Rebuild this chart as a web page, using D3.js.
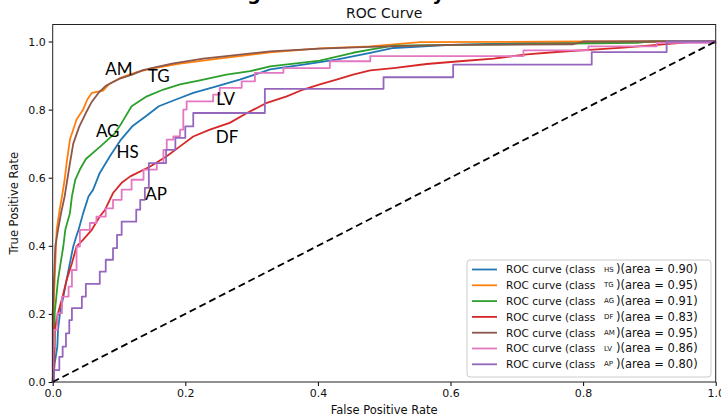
<!DOCTYPE html>
<html>
<head>
<meta charset="utf-8">
<script src="https://cdn.jsdelivr.net/npm/d3@7"></script>
<style>
    body { margin: 0; background: #fff; }
    svg { display: block; }
    .tick text { font-family: "DejaVu Sans", sans-serif; font-size: 11px; fill: #111; }
    .tick line { stroke: #000; }
    .domain { display: none; }
    .axisLabel { font-family: "DejaVu Sans", sans-serif; font-size: 11.5px; fill: #111; }
    .legendText { font-family: "DejaVu Sans", sans-serif; font-size: 10.5px; fill: #111; }
    .note { font-family: Lato, "Open Sans", sans-serif; font-size: 17px; fill: #000; }
</style>
</head>
<body>
<svg id="chart" width="721" height="416"></svg>
<script>
/*
 Chart data
 */

var CLASS_NAMES = ['HS', 'TG', 'AG', 'DF', 'AM', 'LV', 'AP'];
var AUC_VALUES = [0.90, 0.95, 0.91, 0.83, 0.95, 0.86, 0.80];
var AXIS_TICKS = [0.0, 0.2, 0.4, 0.6, 0.8, 1.0];

// [fpr, tpr]
var rocHS = [[0, 0], [0.002, 0.03], [0.003, 0.055], [0.007, 0.104], [0.008, 0.153], [0.011, 0.202],
    [0.016, 0.25], [0.021, 0.3], [0.026, 0.35], [0.031, 0.398], [0.036, 0.43], [0.039, 0.447],
    [0.046, 0.496], [0.054, 0.545], [0.061, 0.565], [0.071, 0.614], [0.087, 0.665], [0.103, 0.712],
    [0.12, 0.751], [0.14, 0.78], [0.16, 0.81], [0.185, 0.829], [0.212, 0.849], [0.247, 0.868],
    [0.282, 0.888], [0.328, 0.918], [0.378, 0.932], [0.428, 0.947], [0.479, 0.967], [0.514, 0.981],
    [0.6, 0.99], [0.7, 0.995], [0.8, 0.998], [0.9, 1.0], [1, 1]];

var rocTG = [[0, 0], [0.001, 0.1], [0.002, 0.25], [0.003, 0.3], [0.005, 0.4], [0.006, 0.447],
    [0.01, 0.5], [0.014, 0.545], [0.018, 0.594], [0.021, 0.643], [0.026, 0.712], [0.036, 0.771],
    [0.046, 0.8], [0.052, 0.829], [0.059, 0.849], [0.076, 0.856], [0.086, 0.876], [0.104, 0.895],
    [0.127, 0.91], [0.147, 0.92], [0.192, 0.935], [0.25, 0.95], [0.328, 0.968], [0.403, 0.98],
    [0.479, 0.986], [0.554, 0.998], [0.8, 1.0], [1, 1]];

var rocAG = [[0, 0], [0.001, 0.05], [0.003, 0.104], [0.003, 0.202], [0.008, 0.3], [0.012, 0.35],
    [0.016, 0.398], [0.019, 0.447], [0.026, 0.496], [0.029, 0.545], [0.034, 0.594], [0.041, 0.624],
    [0.05, 0.655], [0.072, 0.692], [0.094, 0.731], [0.104, 0.761], [0.119, 0.81], [0.142, 0.839],
    [0.167, 0.859], [0.192, 0.874], [0.222, 0.886], [0.262, 0.903], [0.298, 0.913], [0.328, 0.927],
    [0.403, 0.944], [0.453, 0.967], [0.479, 0.976], [0.514, 0.988], [0.6, 0.99], [0.881, 0.996],
    [0.9, 1.0], [1, 1]];

var rocDF = [[0, 0], [0.002, 0.05], [0.003, 0.153], [0.008, 0.202], [0.015, 0.251], [0.021, 0.3],
    [0.029, 0.349], [0.036, 0.398], [0.046, 0.418], [0.059, 0.447], [0.071, 0.486], [0.079, 0.506],
    [0.091, 0.555], [0.104, 0.585], [0.117, 0.604], [0.147, 0.633], [0.172, 0.663], [0.192, 0.692],
    [0.212, 0.721], [0.237, 0.741], [0.267, 0.761], [0.293, 0.79], [0.323, 0.82], [0.353, 0.839],
    [0.378, 0.859], [0.403, 0.874], [0.428, 0.888], [0.453, 0.903], [0.479, 0.915], [0.514, 0.922],
    [0.564, 0.934], [0.614, 0.942], [0.665, 0.95], [0.715, 0.962], [0.765, 0.97], [0.815, 0.976],
    [0.866, 0.983], [0.916, 0.991], [0.966, 0.999], [1, 1]];

var rocAM = [[0, 0], [0, 0.2], [0.002, 0.3], [0.004, 0.4], [0.008, 0.447], [0.013, 0.5],
    [0.018, 0.545], [0.022, 0.594], [0.026, 0.643], [0.031, 0.7], [0.04, 0.75], [0.05, 0.79],
    [0.058, 0.82], [0.069, 0.849], [0.08, 0.87], [0.1, 0.89], [0.12, 0.903], [0.136, 0.916],
    [0.156, 0.925], [0.18, 0.935], [0.227, 0.95], [0.328, 0.971], [0.403, 0.979], [0.479, 0.984],
    [0.6, 0.99], [0.785, 0.992], [0.8, 1.0], [1, 1]];

var rocLV = [[0, 0], [0.001, 0.104], [0.002, 0.153], [0.007, 0.202], [0.014, 0.251], [0.024, 0.28],
    [0.029, 0.329], [0.036, 0.398], [0.041, 0.447], [0.056, 0.467], [0.066, 0.486], [0.08, 0.51],
    [0.091, 0.535], [0.104, 0.565], [0.119, 0.594], [0.137, 0.624], [0.157, 0.643], [0.167, 0.682],
    [0.172, 0.712], [0.182, 0.721], [0.192, 0.741], [0.197, 0.8], [0.202, 0.824], [0.242, 0.844],
    [0.252, 0.864], [0.285, 0.883], [0.305, 0.908], [0.348, 0.922], [0.418, 0.942], [0.479, 0.957],
    [0.71, 0.974], [0.808, 0.986], [0.911, 0.996], [1, 1]];

var rocAP = [[0, 0], [0.002, 0.035], [0.01, 0.074], [0.015, 0.104], [0.02, 0.143], [0.025, 0.182],
    [0.029, 0.217], [0.044, 0.251], [0.05, 0.288], [0.071, 0.324], [0.08, 0.359], [0.091, 0.393],
    [0.097, 0.432], [0.104, 0.471], [0.126, 0.506], [0.132, 0.535], [0.139, 0.57], [0.145, 0.643],
    [0.171, 0.682], [0.185, 0.717], [0.2, 0.751], [0.212, 0.79], [0.32, 0.861], [0.499, 0.895],
    [0.604, 0.932], [0.813, 0.969], [0.926, 1.0], [1, 1]];

// hand-placed class labels, [fpr, tpr] of the label centre
var NOTE_NAMES = ['AM', 'TG', 'AG', 'HS', 'LV', 'DF', 'AP'];
var NOTE_POS = [[0.100, 0.918], [0.160, 0.900], [0.083, 0.738], [0.113, 0.676],
    [0.261, 0.832], [0.263, 0.718], [0.156, 0.551]];

/*
 Layout
 */

var COLORS = ['#1f77b4', '#ff7f0e', '#2ca02c', '#d62728', '#8c564b', '#e377c2', '#9467bd'];
var STEPPED = [false, false, false, false, false, true, true];
var PLOT_LEFT = 52.7, PLOT_RIGHT = 715.7, PLOT_TOP = 24.5, PLOT_BOTTOM = 382;

var svg = d3.select('#chart');

var x = d3.scaleLinear().domain([0, 1]).range([PLOT_LEFT, PLOT_RIGHT]);
var y = d3.scaleLinear().domain([0, 1.05]).range([PLOT_BOTTOM, PLOT_TOP]);

var series = CLASS_NAMES.map(function (name, i) {
    return {
        id: name,
        auc: AUC_VALUES[i],
        color: COLORS[i],
        stepped: STEPPED[i],
        points: [rocHS, rocTG, rocAG, rocDF, rocAM, rocLV, rocAP][i]
    };
});

/*
 Titles
 */

svg.append('text')
    .attr('x', 174)
    .attr('y', 0)
    .style('font-family', '"DejaVu Sans", sans-serif')
    .style('font-weight', 'bold')
    .style('font-size', '19px')
    .attr('fill', '#000')
    .text('Training vs Test Accuracy');

svg.append('text')
    .attr('x', (PLOT_LEFT + PLOT_RIGHT) / 2)
    .attr('y', 18)
    .attr('text-anchor', 'middle')
    .style('font-family', '"DejaVu Sans", sans-serif')
    .style('font-size', '14px')
    .attr('fill', '#111')
    .text('ROC Curve');

/*
 Axes
 */

var xAxis = d3.axisBottom(x)
    .tickValues(AXIS_TICKS)
    .tickFormat(d3.format('.1f'))
    .tickSize(4)
    .tickPadding(3);

var yAxis = d3.axisLeft(y)
    .tickValues(AXIS_TICKS)
    .tickFormat(d3.format('.1f'))
    .tickSize(4)
    .tickPadding(3);

svg.append('g')
    .attr('transform', 'translate(0,' + PLOT_BOTTOM + ')')
    .call(xAxis);

svg.append('g')
    .attr('transform', 'translate(' + PLOT_LEFT + ',0)')
    .call(yAxis);

svg.append('text')
    .classed('axisLabel', true)
    .attr('x', (PLOT_LEFT + PLOT_RIGHT) / 2)
    .attr('y', 414)
    .attr('text-anchor', 'middle')
    .text('False Positive Rate');

svg.append('text')
    .classed('axisLabel', true)
    .attr('transform', 'translate(18,' + ((PLOT_TOP + PLOT_BOTTOM) / 2) + ') rotate(-90)')
    .attr('text-anchor', 'middle')
    .text('True Positive Rate');

/*
 Curves
 */

var plot = svg.append('g');

plot.selectAll('.roc')
    .data(series, function (d) {
        return d.id;
    })
    .enter()
    .append('path')
    .classed('roc', true)
    .attr('fill', 'none')
    .attr('stroke', function (d) {
        return d.color;
    })
    .attr('stroke-width', 1.8)
    .attr('stroke-linejoin', 'round')
    .attr('d', function (d) {
        var line = d3.line()
            .x(function (p) {
                return x(p[0]);
            })
            .y(function (p) {
                return y(p[1]);
            })
            .curve(d.stepped ? d3.curveStepAfter : d3.curveLinear);
        return line(d.points);
    });

plot.append('path')
    .attr('fill', 'none')
    .attr('stroke', '#000')
    .attr('stroke-width', 1.8)
    .attr('stroke-dasharray', '7,4')
    .attr('d', d3.line()([[x(0), y(0)], [x(1), y(1)]]));

// frame
svg.append('rect')
    .attr('x', PLOT_LEFT)
    .attr('y', PLOT_TOP)
    .attr('width', PLOT_RIGHT - PLOT_LEFT)
    .attr('height', PLOT_BOTTOM - PLOT_TOP)
    .attr('fill', 'none')
    .attr('stroke', '#222')
    .attr('stroke-width', 1);

/*
 Class notes
 */

svg.selectAll('.note')
    .data(NOTE_NAMES)
    .enter()
    .append('text')
    .classed('note', true)
    .attr('x', function (d, i) {
        return x(NOTE_POS[i][0]);
    })
    .attr('y', function (d, i) {
        return y(NOTE_POS[i][1]);
    })
    .attr('dy', '0.35em')
    .attr('text-anchor', 'middle')
    .text(function (d) {
        return d;
    });

/*
 Legend
 */

var legend = svg.append('g')
    .attr('transform', 'translate(467,260)');

legend.append('rect')
    .attr('width', 244)
    .attr('height', 117)
    .attr('rx', 3)
    .attr('fill', '#fff')
    .attr('fill-opacity', 0.8)
    .attr('stroke', '#ccc')
    .attr('stroke-width', 1);

var entries = legend.selectAll('.entry')
    .data(series)
    .enter()
    .append('g')
    .classed('entry', true)
    .attr('transform', function (d, i) {
        return 'translate(0,' + (9.5 + i * 15.8) + ')';
    });

entries.append('line')
    .attr('x1', 5)
    .attr('x2', 30)
    .attr('stroke', function (d) {
        return d.color;
    })
    .attr('stroke-width', 1.8);

entries.append('text')
    .classed('legendText', true)
    .attr('x', 39)
    .attr('y', 3.8)
    .text('ROC curve (class');

entries.append('text')
    .classed('legendText', true)
    .attr('x', 137)
    .attr('y', 2)
    .style('font-size', '7px')
    .text(function (d) {
        return d.id;
    });

entries.append('text')
    .classed('legendText', true)
    .attr('x', 149)
    .attr('y', 3.8)
    .style('font-size', '11.5px')
    .text(function (d) {
        return ')(area = ' + d.auc.toFixed(2) + ')';
    });
</script>
</body>
</html>
